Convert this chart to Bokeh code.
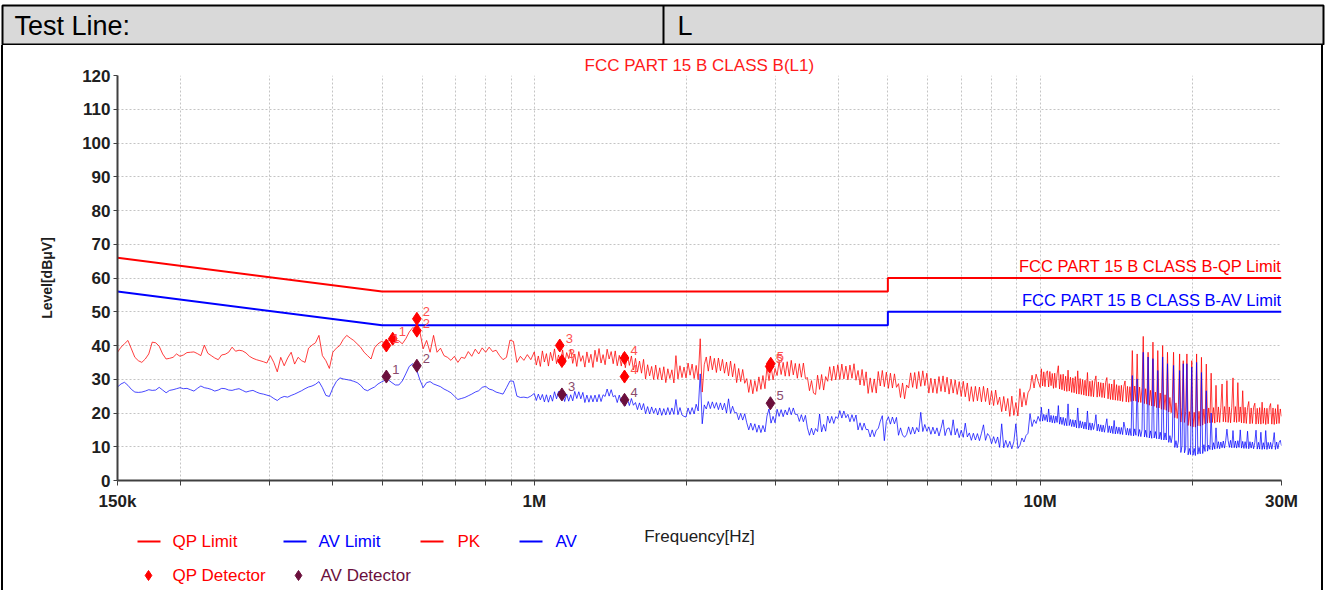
import numpy as np
from bokeh.plotting import figure
from bokeh.layouts import column, row
from bokeh.models import FixedTicker, Label, Range1d, Spacer
from bokeh.core.properties import value
from bokeh.embed import file_html
from bokeh.resources import INLINE

FONT = "Liberation Sans"

# ---- measured levels (dBuV), three sweep bands ----
# band A: 150 kHz - 1 MHz
PK_A = [38, 39.5, 40.5, 41.5, 39, 36.5, 35.5, 35, 36, 37.5,
        41, 40.8, 39.8, 37.5, 36, 36.2, 36.5, 37.5, 36.8, 37.2,
        37.9, 38, 38.1, 37.6, 37, 40.1, 37.7, 37, 36.3, 35.8,
        37.2, 37.4, 38, 39.5, 38.3, 38.6, 38.4, 37.8, 36.8, 36.2,
        35.8, 35.5, 35.2, 34.8, 37, 35, 32.2, 36.5, 34, 36.3,
        38, 34.5, 36.5, 35.5, 35, 39.2, 40.1, 40.8, 43, 37,
        35.5, 33.2, 38, 39.2, 40, 41.8, 43, 42.2, 41.5, 40.5,
        39.5, 38, 37, 36, 39.3, 40.5, 41.2, 40.8, 41.5, 42,
        41.5, 41.4, 40.5, 42, 44, 45.3, 44.8, 44.4, 39, 41.5,
        38, 43, 38, 39.2, 37, 36.5, 35.6, 36.8, 35, 36.5,
        36.2, 38.2, 36.8, 38.9, 37.5, 39.3, 38, 39.5, 38.2, 38.6,
        37, 35.8, 36.5, 41.6, 41.2, 35, 36.8, 35.6, 37.3, 35.8]
AV_A = [27.7, 28.6, 29.1, 28.2, 27, 26.2, 26.1, 26.2, 26.5, 26.9,
        26.7, 26.8, 27.6, 26.8, 26, 26.7, 26.9, 27.2, 27.5, 27.2,
        27.3, 26.9, 26.5, 27.3, 28, 27.5, 27.3, 27, 26.5, 26.8,
        27.3, 27.2, 26.8, 26.7, 27, 27.2, 26.7, 26.2, 26.5, 26.7,
        26.2, 25.8, 25.6, 25.3, 25, 24.3, 23.7, 24.5, 24.9, 24.7,
        25.2, 25.6, 26.1, 26.6, 27.2, 27.7, 28, 28.5, 29.3, 27.5,
        25.2, 24.9, 27.4, 29.3, 30.4, 30.1, 29.9, 29.7, 29.4, 29,
        28.2, 27, 26.6, 27.2, 27.7, 28.6, 29.2, 29.7, 29.8, 29,
        28.3, 28.3, 29.5, 31.6, 33.8, 34.6, 33.2, 30, 27.5, 29,
        29.3, 28.6, 28.2, 27.8, 27.1, 26.6, 26, 25, 24, 24.3,
        24.6, 25.1, 25.6, 26.2, 26.6, 27.6, 27.9, 27.1, 26.8, 26.2,
        25.9, 25.6, 27.5, 29.5, 29.4, 25, 24.6, 24.7, 24.5, 25]

# band B: 1 MHz - 10 MHz
PK_B = [38.1, 34.2, 36.9, 33.8, 38.4, 35.1, 37.6, 33.9, 38.0, 35.5,
        39.0, 34.6, 37.2, 35.0, 38.7, 34.4, 37.9, 36.1, 38.8, 34.7,
        37.5, 33.8, 38.2, 35.3, 37.0, 33.6, 38.1, 34.9, 37.4, 33.5,
        38.6, 35.2, 39.1, 34.8, 37.3, 34.3, 38.9, 36.0, 38.2, 34.6,
        38.4, 34.0, 37.1, 33.9, 37.8, 33.4, 37.2, 34.1, 36.9, 32.8,
        36.2, 32.1, 35.4, 31.8, 35.9, 30.1, 34.3, 31.0, 33.8, 29.9,
        34.2, 30.0, 33.4, 29.8, 33.7, 29.0, 33.1, 30.2, 32.8, 28.9,
        37.0, 30.1, 34.0, 30.5, 33.6, 30.4, 34.8, 31.2, 34.5, 30.2,
        34.1, 29.9, 42.0, 26.2, 34.3, 36.6, 32.4, 36.9, 32.8, 36.2,
        32.0, 36.3, 32.5, 35.9, 31.8, 35.1, 31.0, 35.4, 30.7, 34.6,
        29.0, 33.2, 29.3, 32.9, 28.8, 30.2, 26.1, 29.8, 25.7, 29.6,
        26.4, 30.7, 27.0, 31.1, 27.2, 33.6, 29.6, 33.9, 29.8, 33.2,
        31.1, 35.3, 31.4, 35.0, 30.9, 35.2, 30.9, 35.6, 31.3, 34.7,
        30.3, 34.6, 30.6, 34.8, 30.2, 30.5, 26.6, 29.6, 25.9, 25.5,
        31.2, 27.0, 31.4, 26.8, 30.8, 29.4, 33.7, 29.6, 33.9, 29.8,
        34.3, 29.9, 34.5, 30.1, 33.9, 29.8, 34.2, 30.3, 34.6, 29.7,
        32.6, 28.3, 32.9, 28.1, 32.2, 25.8, 30.4, 26.1, 30.1, 25.9,
        32.3, 28.0, 32.6, 27.8, 32.1, 27.3, 31.8, 27.4, 31.6, 27.6,
        28.7, 24.6, 28.9, 24.2, 28.3, 27.4, 31.9, 27.6, 32.0, 27.2,
        32.3, 27.9, 32.5, 28.1, 31.8, 25.9, 30.3, 26.0, 30.1, 25.8,
        30.8, 26.4, 31.0, 26.2, 30.6, 25.6, 30.0, 25.9, 29.8, 25.5,
        29.3, 24.9, 29.4, 24.8, 28.9, 23.5, 27.8, 23.4, 27.9, 23.6,
        27.7, 23.3, 27.9, 23.4, 27.4, 22.4, 26.6, 22.2, 26.8, 22.5,
        24.7, 20.4, 24.9, 20.6, 24.3, 19.0, 25.0, 19.3, 23.1, 19.1,
        27.2, 21.8, 26.1, 22.3, 26.0, 27.1, 31.2, 27.4, 31.5, 29.4]
AV_B = [25.8, 23.7, 25.6, 23.9, 25.5, 23.3, 25.4, 23.2, 25.3, 23.5,
        26.3, 24.2, 26.4, 24.1, 26.0, 23.4, 25.6, 23.5, 25.4, 23.6,
        26.4, 24.3, 26.3, 24.2, 26.1, 23.1, 25.3, 23.2, 25.2, 23.3,
        25.3, 23.3, 25.5, 23.4, 25.4, 24.9, 27.1, 25.0, 26.9, 24.8,
        25.2, 23.1, 25.3, 23.2, 24.9, 22.1, 24.2, 22.2, 24.3, 22.3,
        23.1, 21.0, 23.0, 20.9, 22.8, 19.8, 21.9, 19.7, 21.8, 19.9,
        21.4, 19.4, 21.5, 19.3, 21.3, 19.4, 21.6, 19.5, 21.5, 19.6,
        24.0, 19.5, 21.6, 19.4, 19.0, 18.8, 21.5, 19.6, 21.6, 19.7,
        22.6, 20.6, 31.6, 16.8, 22.4, 21.2, 23.4, 21.3, 23.3, 21.4,
        23.1, 21.0, 23.0, 20.9, 22.9, 20.0, 24.2, 19.9, 22.0, 20.1,
        20.1, 18.0, 19.9, 17.9, 19.8, 17.1, 15.0, 17.0, 14.9, 16.8,
        14.3, 16.4, 14.2, 16.3, 14.4, 19.1, 21.2, 17.0, 19.0, 17.1,
        21.1, 19.0, 21.0, 18.9, 20.9, 19.4, 21.6, 19.5, 21.5, 19.6,
        19.6, 17.5, 19.5, 17.4, 19.3, 15.6, 13.4, 15.5, 13.5, 15.4,
        14.5, 19.7, 14.4, 16.6, 14.6, 19.1, 17.0, 19.0, 16.9, 18.9,
        18.4, 20.7, 18.5, 20.6, 18.6, 19.6, 17.4, 19.5, 17.5, 19.4,
        15.0, 17.1, 14.9, 17.0, 15.1, 15.1, 12.9, 15.0, 13.0, 14.9,
        15.4, 17.6, 19.2, 11.8, 17.5, 18.9, 16.7, 18.8, 16.8, 18.7,
        13.4, 15.6, 13.5, 12.8, 13.6, 15.9, 13.7, 15.8, 13.8, 15.7,
        14.4, 20.2, 14.5, 16.6, 14.6, 15.9, 13.7, 15.8, 13.8, 15.6,
        13.2, 15.4, 18.0, 13.3, 15.3, 15.6, 13.4, 18.0, 13.5, 15.4,
        12.7, 14.9, 12.8, 17.0, 12.9, 14.1, 11.9, 14.0, 12.0, 13.9,
        11.8, 14.0, 16.5, 11.9, 13.9, 13.1, 10.9, 13.0, 11.0, 12.9,
        9.8, 16.8, 9.7, 11.9, 9.8, 11.6, 9.4, 11.5, 16.8, 9.5,
        10.4, 12.6, 11.4, 13.3, 14.0, 19.8, 16.0, 18.0, 16.9, 19.0]

# band C: 10 MHz - 30 MHz
PK_C = [27.6, 33.1, 28.0, 32.2, 27.8, 31.9, 32.5, 27.7, 32.3, 28.1,
        31.7, 27.3, 31.8, 27.5, 31.6, 34.0, 27.1, 31.4, 26.9, 31.5,
        26.6, 30.9, 26.4, 32.7, 26.5, 30.6, 26.1, 30.4, 26.0, 30.8,
        25.7, 32.5, 25.6, 30.2, 25.5, 29.9, 25.3, 29.7, 25.1, 32.0,
        25.0, 29.4, 24.9, 29.6, 24.8, 29.3, 31.0, 24.7, 29.2, 24.9,
        29.0, 24.6, 28.9, 24.5, 29.1, 30.5, 24.2, 28.7, 24.0, 28.6,
        23.9, 29.8, 23.8, 28.4, 23.7, 28.1, 23.6, 28.2, 23.4, 27.9,
        29.5, 23.3, 27.9, 23.2, 27.8, 23.4, 38.5, 23.6, 28.0, 23.5,
        37.5, 23.2, 27.7, 23.1, 27.6, 42.7, 22.8, 27.2, 22.6, 38.0,
        22.3, 26.7, 22.1, 41.0, 22.0, 26.2, 21.6, 38.5, 21.5, 25.9,
        21.1, 40.0, 21.0, 25.4, 20.8, 38.0, 20.3, 24.6, 20.1, 24.2,
        38.0, 18.6, 23.0, 18.4, 22.6, 37.5, 17.3, 21.6, 35.5, 17.2,
        20.5, 37.5, 16.3, 20.4, 16.1, 35.5, 15.9, 20.2, 15.8, 37.5,
        16.2, 20.5, 16.1, 36.5, 16.4, 21.2, 16.8, 34.5, 17.0, 21.5,
        17.1, 31.8, 17.2, 21.6, 17.0, 28.2, 17.3, 21.8, 17.2, 21.7,
        28.6, 17.4, 21.9, 17.3, 29.6, 17.2, 21.8, 17.1, 21.7, 30.4,
        17.3, 21.9, 17.2, 29.0, 17.4, 21.8, 17.1, 26.6, 17.0, 21.7,
        16.9, 21.6, 23.4, 16.8, 21.5, 16.9, 21.7, 22.9, 16.7, 21.4,
        16.8, 21.6, 16.7, 23.2, 16.9, 21.5, 16.6, 21.4, 16.8, 21.6,
        22.8, 16.7, 21.5, 16.6, 21.3, 16.8, 22.5, 16.9, 21.2, 19.0]
AV_C = [17.5, 21.7, 17.6, 19.6, 17.8, 19.5, 17.4, 21.2, 17.3, 19.3,
        17.1, 19.2, 17.0, 19.1, 17.2, 22.2, 16.7, 18.8, 16.6, 18.7,
        16.3, 18.4, 16.2, 22.7, 16.3, 18.1, 16.0, 18.0, 15.9, 17.9,
        15.6, 21.5, 15.5, 17.7, 15.6, 17.4, 15.3, 17.3, 15.2, 20.6,
        15.0, 17.1, 14.9, 17.0, 15.1, 16.8, 19.5, 14.7, 16.7, 14.6,
        16.5, 14.4, 16.4, 14.3, 16.3, 18.3, 14.2, 16.2, 14.1, 16.1,
        13.9, 17.8, 13.8, 15.9, 13.9, 15.8, 13.7, 15.7, 13.6, 17.3,
        15.6, 13.5, 15.5, 13.4, 15.4, 13.3, 31.1, 13.2, 15.3, 13.4,
        30.1, 13.1, 15.1, 13.0, 15.0, 38.0, 12.9, 14.9, 12.8, 36.6,
        12.6, 14.7, 12.5, 36.1, 12.6, 14.5, 12.4, 32.6, 12.3, 14.3,
        12.1, 36.6, 12.0, 14.1, 12.0, 34.6, 11.3, 13.3, 11.2, 13.2,
        34.1, 9.8, 11.8, 9.7, 11.7, 32.6, 8.3, 10.3, 34.6, 8.2,
        9.6, 34.6, 7.6, 9.5, 7.7, 33.6, 7.5, 9.5, 7.4, 35.0,
        7.8, 9.8, 7.9, 32.0, 8.0, 10.6, 8.6, 26.6, 8.7, 10.5,
        9.2, 20.0, 9.1, 11.2, 9.3, 15.6, 9.5, 11.5, 9.4, 11.4,
        9.7, 11.7, 9.6, 11.8, 15.2, 11.8, 9.8, 11.9, 9.7, 14.8,
        9.7, 11.7, 9.6, 11.8, 9.8, 15.0, 9.6, 11.6, 9.5, 11.5,
        9.5, 14.6, 9.4, 11.5, 9.6, 11.4, 9.4, 11.3, 14.9, 9.3,
        11.3, 9.3, 14.3, 9.2, 11.2, 9.3, 14.8, 9.2, 11.3, 9.4,
        11.3, 9.3, 11.2, 14.2, 9.2, 11.4, 9.4, 11.3, 11.9, 10.3]

# limit lines (FCC Part 15 B, class B)
LIMIT_FREQ = [150e3, 500e3, 5e6, 5e6, 30e6]
QP_LIMIT = [66, 56, 56, 60, 60]
AV_LIMIT = [56, 46, 46, 50, 50]

# final measurement points
QP_FREQ = [0.510e6, 0.525e6, 0.586e6, 0.586e6, 1.123e6, 1.134e6, 1.508e6, 1.508e6, 2.934e6, 2.920e6]
QP_LEVEL = [40.0, 42.0, 47.9, 44.4, 40.0, 35.4, 36.3, 30.8, 34.6, 33.8]
QP_TAG = ["1", "1", "2", "2", "3", "3", "4", "4", "5", "5"]
AVD_FREQ = [0.510e6, 0.586e6, 1.134e6, 1.508e6, 2.930e6]
AVD_LEVEL = [30.8, 34.0, 25.5, 23.9, 22.9]
AVD_TAG = ["1", "2", "3", "4", "5"]

X_LABELED = [150e3, 1e6, 1e7, 3e7]
X_LABEL_TEXT = ["150k", "1M", "10M", "30M"]
X_MINOR = [2e5, 3e5, 4e5, 5e5, 6e5, 7e5, 8e5, 9e5,
           2e6, 3e6, 4e6, 5e6, 6e6, 7e6, 8e6, 9e6, 2e7]
Y_TICKS = list(range(0, 121, 10))

# legend entries
LEGEND_LINES = ["QP Limit", "AV Limit", "PK", "AV"]
LEGEND_MARKERS = ["QP Detector", "AV Detector"]

# sweep frequency grids
freq = np.concatenate([
    np.geomspace(150e3, 1e6, len(PK_A), endpoint=False),
    np.geomspace(1e6, 1e7, len(PK_B), endpoint=False),
    np.geomspace(1e7, 30e6, len(PK_C)),
])
pk = np.array(PK_A + PK_B + PK_C)
av = np.array(AV_A + AV_B + AV_C)

RED = "#ff0000"
BLUE = "#0000ff"
MAROON = "#6b0f3c"

# ---------------- header row of the report table ----------------
header = figure(width=1330, height=45, x_range=Range1d(0, 1330), y_range=Range1d(45, 0),
                output_backend="svg", toolbar_location=None, min_border=0,
                x_axis_location=None, y_axis_location=None)
header.grid.visible = False
header.outline_line_color = None
header.quad(left=[2], right=[1323], top=[5], bottom=[44], fill_color="#d9d9d9",
            line_color="black", line_width=2)
header.segment(x0=[663], y0=[5], x1=[663], y1=[44], line_color="black", line_width=2)
header.text(x=[14, 677], y=[25.5, 25.5], text=["Test Line:", "L"], text_baseline="middle",
            text_font=value(FONT), text_font_size="27px", text_color="black")

# ---------------- chart ----------------
p = figure(width=1318, height=470, x_axis_type="log", x_range=Range1d(150e3, 30e6),
           y_range=Range1d(0, 120), output_backend="svg", toolbar_location=None,
           min_border_left=114, min_border_right=40, min_border_top=30, min_border_bottom=35,
           title="FCC PART 15 B CLASS B(L1)")
p.title.align = "center"
p.title.text_color = "#ff1a1a"
p.title.text_font = FONT
p.title.text_font_size = "17px"
p.title.text_font_style = "normal"
p.title.standoff = 1
p.outline_line_color = None

p.xaxis.ticker = FixedTicker(ticks=X_LABELED, minor_ticks=X_MINOR)
p.xaxis.major_label_overrides = {float(t): s for t, s in zip(X_LABELED, X_LABEL_TEXT)}
p.yaxis.ticker = FixedTicker(ticks=Y_TICKS)
for ax in (p.xaxis[0], p.yaxis[0]):
    ax.axis_line_color = "#404040"
    ax.axis_line_width = 2
    ax.major_tick_line_color = "#404040"
    ax.minor_tick_line_color = "#404040"
    ax.major_tick_in = 0
    ax.minor_tick_in = 0
    ax.major_label_text_font = FONT
    ax.major_label_text_font_style = "bold"
    ax.major_label_text_font_size = "17px"
    ax.major_label_text_color = "#202020"
p.xaxis.major_tick_out = 5
p.xaxis.minor_tick_out = 5
p.xaxis.major_label_standoff = 6
p.yaxis.major_tick_out = 4
p.yaxis.minor_tick_out = 0
p.yaxis.major_label_standoff = 3
p.yaxis.axis_label = "Level[dBμV]"
p.yaxis.axis_label_text_font = FONT
p.yaxis.axis_label_text_color = "#202020"
p.yaxis.axis_label_text_font_style = "bold"
p.yaxis.axis_label_text_font_size = "14px"
p.yaxis.axis_label_standoff = 24

p.xgrid.grid_line_color = "#c4c4c4"
p.xgrid.grid_line_dash = "2 2"
p.xgrid.minor_grid_line_color = "#c4c4c4"
p.xgrid.minor_grid_line_dash = "2 2"
p.ygrid.grid_line_color = "#c4c4c4"
p.ygrid.grid_line_dash = "2 2"

# traces and limits
p.line(freq, pk, line_color=RED, line_alpha=0.76, line_width=1)
p.line(freq, av, line_color=BLUE, line_alpha=0.72, line_width=1)
p.line(LIMIT_FREQ, QP_LIMIT, line_color=RED, line_width=2)
p.line(LIMIT_FREQ, AV_LIMIT, line_color=BLUE, line_width=2)

# detector results
p.scatter(QP_FREQ, QP_LEVEL, marker="diamond", size=13, color=RED)
p.scatter(AVD_FREQ, AVD_LEVEL, marker="diamond", size=13, color=MAROON)
p.text(QP_FREQ, QP_LEVEL, text=QP_TAG, x_offset=6, y_offset=-3, text_font=value(FONT),
       text_font_size="13px", text_color="#ff5050", text_baseline="bottom")
p.text(AVD_FREQ, AVD_LEVEL, text=AVD_TAG, x_offset=6, y_offset=-3, text_font=value(FONT),
       text_font_size="13px", text_color="#8a4a6c", text_baseline="bottom")

p.add_layout(Label(x=30e6, y=60, text="FCC PART 15 B CLASS B-QP Limit", text_align="right",
                   text_baseline="bottom", y_offset=3, text_font=FONT, text_font_size="16.5px",
                   text_color=RED))
p.add_layout(Label(x=30e6, y=50, text="FCC PART 15 B CLASS B-AV Limit", text_align="right",
                   text_baseline="bottom", y_offset=3, text_font=FONT, text_font_size="16.5px",
                   text_color=BLUE))

# ---------------- axis caption and legend strip ----------------
# this strip's frame lines up with the chart frame, so its x range is given in page pixels
foot = figure(width=1318, height=75, x_range=Range1d(117, 1281), y_range=Range1d(590, 515),
              output_backend="svg", toolbar_location=None, min_border=0,
              x_axis_location=None, y_axis_location=None)
foot.grid.visible = False
foot.outline_line_color = None
foot.text(x=[699], y=[536], text=["Frequency[Hz]"], text_align="center", text_baseline="middle",
          text_font=value(FONT), text_font_size="17px", text_color="#202020")

line_colors = [RED, BLUE, RED, BLUE]
foot.segment(x0=[137, 283, 420, 519], y0=[541] * 4, x1=[160, 306, 443, 542], y1=[541] * 4,
             line_color=line_colors, line_width=2)
foot.text(x=[172, 318, 457, 555], y=[541] * 4, text=LEGEND_LINES, text_baseline="middle",
          text_font=value(FONT), text_font_size="17px", text_color=line_colors)
foot.scatter(x=[148, 298], y=[575, 575], marker="diamond", size=10, color=[RED, MAROON])
foot.text(x=[172, 320], y=[575, 575], text=LEGEND_MARKERS, text_baseline="middle",
          text_font=value(FONT), text_font_size="17px", text_color=[RED, MAROON])

# side borders of the report table
black = {"background-color": "black"}
body = row(Spacer(width=1, height=545), Spacer(width=2, height=545, styles=black),
           column(p, foot), Spacer(width=2, height=545, styles=black),
           Spacer(width=7, height=545))
page = column(header, body)

open("out.html", "w").write(file_html(page, INLINE))
